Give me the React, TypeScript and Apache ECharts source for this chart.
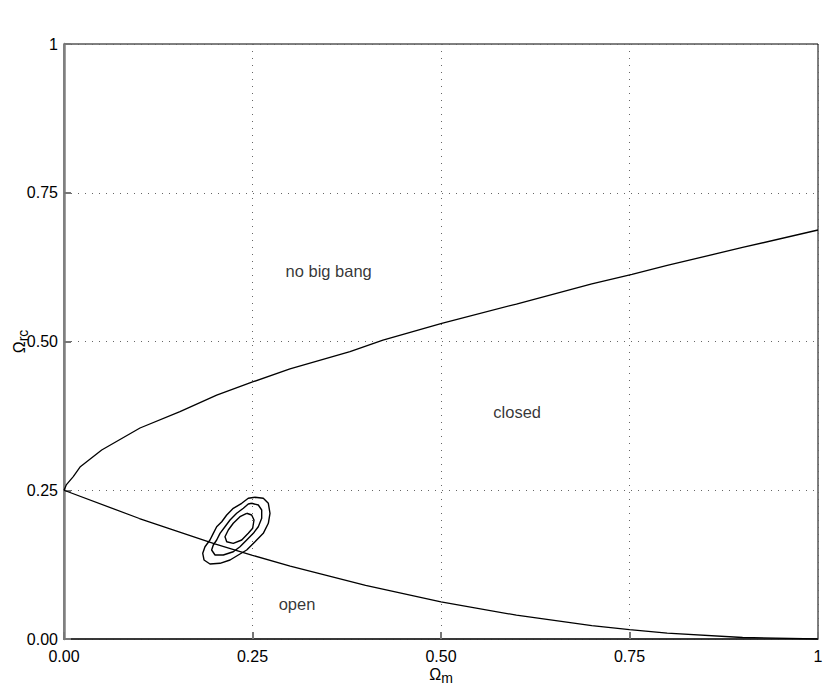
import React, { useEffect, useRef } from "react";
import * as echarts from "echarts";

// Upper boundary ("no big bang"): [Ω_m, Ω_rc]
const noBigBangCurve: number[][] = [
  [0, 0.25], [0.003, 0.259], [0.0123, 0.273], [0.0212, 0.289], [0.05, 0.3176],
  [0.1008, 0.3546], [0.1538, 0.382], [0.2025, 0.41], [0.251, 0.4324],
  [0.2997, 0.4538], [0.3793, 0.4829], [0.423, 0.5025], [0.501, 0.5306],
  [0.6, 0.563], [0.7, 0.597], [0.7533, 0.613], [0.8, 0.628], [0.9, 0.658], [1.0, 0.6874],
];

// Lower boundary (open / closed)
const flatCurve: number[][] = [
  [0, 0.25], [0.1, 0.2025], [0.2, 0.16], [0.25, 0.1406], [0.3, 0.1225],
  [0.4, 0.09], [0.5, 0.0625], [0.6, 0.04], [0.7, 0.0225], [0.75, 0.0156],
  [0.8, 0.01], [0.9, 0.0025], [1.0, 0],
];

// Confidence contours
const contourOuter: number[][] = [
  [0.2533, 0.2382], [0.2643, 0.2365], [0.271, 0.2281], [0.2732, 0.2113],
  [0.271, 0.1945], [0.2643, 0.1776], [0.2533, 0.1635], [0.2423, 0.1496],
  [0.2312, 0.1412], [0.2202, 0.1328], [0.2069, 0.1272], [0.1936, 0.1261],
  [0.1857, 0.1328], [0.184, 0.144], [0.187, 0.1551], [0.1936, 0.1664],
  [0.198, 0.1776], [0.2025, 0.1887], [0.2092, 0.1971], [0.2158, 0.2084],
  [0.2245, 0.2197], [0.2357, 0.2281], [0.2444, 0.2365], [0.2533, 0.2382],
];
const contourMiddle: number[][] = [
  [0.2489, 0.2281], [0.2577, 0.2252], [0.2622, 0.2168], [0.2622, 0.2028],
  [0.2577, 0.1887], [0.2511, 0.1776], [0.2423, 0.1664], [0.2334, 0.1551],
  [0.2245, 0.1467], [0.2113, 0.1412], [0.2003, 0.1412], [0.1958, 0.1496],
  [0.198, 0.158], [0.2025, 0.1664], [0.2069, 0.1776], [0.2135, 0.1887],
  [0.2202, 0.2], [0.229, 0.2113], [0.2379, 0.2197], [0.2444, 0.2269], [0.2489, 0.2281],
];
const contourInner: number[][] = [
  [0.2423, 0.2113], [0.2489, 0.2084], [0.252, 0.2], [0.2502, 0.1861],
  [0.2444, 0.1776], [0.2357, 0.1664], [0.2245, 0.1608], [0.2158, 0.1635],
  [0.2135, 0.1719], [0.2179, 0.1832], [0.2245, 0.1945], [0.2334, 0.2056], [0.2423, 0.2113],
];

// Region annotations
const regionLabels: { name: string; value: number[] }[] = [
  { name: "no big bang", value: [0.351, 0.618] },
  { name: "closed", value: [0.601, 0.381] },
  { name: "open", value: [0.309, 0.059] },
];

const FONT = "'Liberation Sans', Arial, Helvetica, sans-serif";

const fmt = (v: number) => (v === 1 ? "1" : v.toFixed(2));

export default function App() {
  const ref = useRef<HTMLDivElement>(null);
  useEffect(() => {
    if (!ref.current) return;
    const chart = echarts.init(ref.current, null, { renderer: "svg" });
    const lineSeries = (data: number[][], w: number) => ({
      type: "line",
      data,
      showSymbol: false,
      symbol: "none",
      smooth: false,
      lineStyle: { color: "#000", width: w },
      silent: true,
      z: 5,
    });
    const axisCommon = {
      type: "value",
      min: 0,
      max: 1,
      interval: 0.25,
      axisLine: { show: true, lineStyle: { color: "#222", width: 1.5 } },
      axisTick: { show: true, inside: true, length: 7, lineStyle: { color: "#777", width: 2 } },
      splitLine: { show: true, lineStyle: { color: "#666", type: [1, 6], width: 1 } },
      axisLabel: {
        formatter: fmt,
        color: "#000",
        fontSize: 16,
        fontFamily: FONT,
        showMinLabel: true,
        showMaxLabel: true,
      },
    };
    const nameStyle = {
      fontSize: 16,
      fontFamily: FONT,
      color: "#000",
      rich: {
        sub: { fontSize: 14, fontFamily: FONT, color: "#000", padding: [8, 0, 0, 0] },
      },
    };
    chart.setOption({
      animation: false,
      backgroundColor: "#fff",
      grid: {
        left: 64,
        right: 12,
        top: 44,
        bottom: 53,
        containLabel: false,
        outerBoundsMode: "none",
        show: true,
        borderColor: "#000",
        borderWidth: 1,
        backgroundColor: "transparent",
      },
      xAxis: {
        ...axisCommon,
        name: "Ω{sub|m}",
        nameLocation: "middle",
        nameGap: 24,
        nameMoveOverlap: false,
        nameTextStyle: nameStyle,
        axisLabel: { ...axisCommon.axisLabel, margin: 9 },
      },
      yAxis: {
        ...axisCommon,
        axisLine: { show: true, lineStyle: { color: "#808080", width: 2.5 } },
        name: "Ω{sub|rc}",
        nameLocation: "middle",
        nameRotate: 90,
        nameGap: 34,
        nameMoveOverlap: false,
        nameTextStyle: nameStyle,
        axisLabel: { ...axisCommon.axisLabel, margin: 6 },
      },
      series: [
        lineSeries(noBigBangCurve, 1.3),
        lineSeries(flatCurve, 1.3),
        lineSeries(contourOuter, 1.4),
        lineSeries(contourMiddle, 1.4),
        lineSeries(contourInner, 1.4),
        {
          type: "scatter",
          data: regionLabels,
          symbolSize: 0,
          silent: true,
          label: {
            show: true,
            position: "inside",
            formatter: (p: any) => p.name,
            color: "#000",
            fontSize: 16.5,
            fontFamily: FONT,
          },
        },
      ],
    });
    return () => chart.dispose();
  }, []);
  return (
    <div
      ref={ref}
      style={{ position: "fixed", left: 0, top: 0, width: 830, height: 692, background: "#fff" }}
    />
  );
}
